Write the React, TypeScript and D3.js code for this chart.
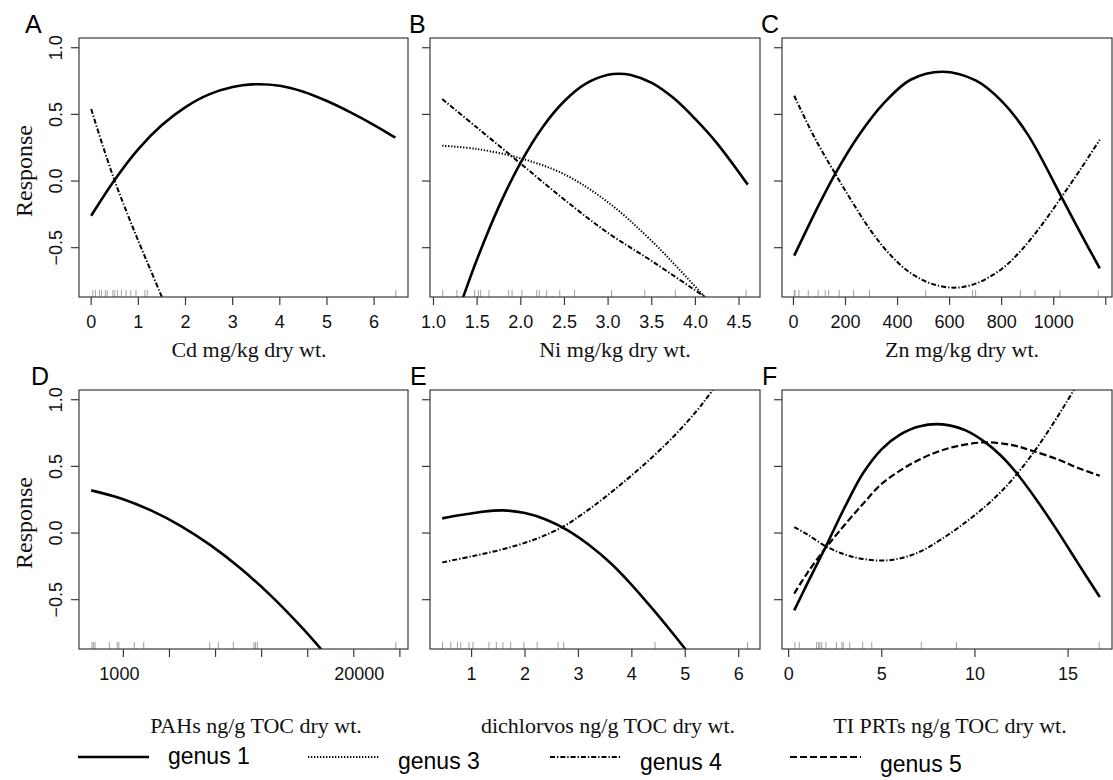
import React from "react";
import * as d3 from "d3";

// ---------------- data ----------------
const cdRug = [0.035, 0.09, 0.175, 0.22, 0.3, 0.34, 0.46, 0.5, 0.56, 0.64, 0.74, 0.84, 0.95, 1.14, 1.19, 6.46];
const niRug = [1.106, 1.268, 1.472, 1.514, 1.54, 1.635, 1.861, 1.9, 2.013, 2.183, 2.212, 2.296, 2.446, 2.616, 3.04, 3.42, 3.77, 4.58];
const znRug = [3, 6, 21, 57, 95, 122, 135, 176, 231, 292, 508, 688, 700, 872, 928, 1024, 1171];
const pahRug = [710, 723, 738, 883, 973, 993, 1205, 1355, 3090, 3444, 4150, 5370, 5470, 5600, 31600];
const dichRug = [0.455, 0.61, 0.735, 0.797, 0.952, 1.026, 1.325, 1.463, 1.586, 1.73, 1.978, 2.228, 2.62, 2.724, 4.435, 6.165];
const prtRug = [0.34, 0.57, 1.5, 1.61, 1.68, 1.78, 2.0, 2.57, 2.86, 2.93, 3.28, 3.97, 4.46, 7.12, 9.01, 16.67];

const cdTicks = [0, 1, 2, 3, 4, 5, 6];
const niTicks = [1.0, 1.5, 2.0, 2.5, 3.0, 3.5, 4.0, 4.5];
const znTicks = [0, 200, 400, 600, 800, 1000, 1200];
const znLabels = [0, 200, 400, 600, 800, 1000];
const pahTicks = [1051, 1869, 3324, 5911, 10512, 18693, 33242];
const pahLabels = [1000, 20000];
const dichTicks = [1, 2, 3, 4, 5, 6];
const prtTicks = [0, 5, 10, 15];
const responseTicks = [-0.5, 0, 0.5, 1.0];
const responseRange = [-0.87, 1.073];

type Pt = [number, number];
// Panel A (Cd)
const cdGenus1: Pt[] = [[0, -0.26], [0.5, 0.01], [1, 0.24], [1.5, 0.42], [2, 0.555], [2.5, 0.65], [3, 0.705], [3.4, 0.725], [4, 0.715], [4.5, 0.67], [5, 0.6], [5.5, 0.515], [6, 0.42], [6.45, 0.325]];
const cdGenus4: Pt[] = [[0, 0.54], [0.25, 0.26], [0.5, 0.0], [0.75, -0.23], [1.0, -0.45], [1.25, -0.66], [1.5, -0.87], [1.55, -0.91]];
// Panel B (Ni)
const niGenus1: Pt[] = [[1.2, -1.12], [1.34, -0.87], [1.5, -0.585], [1.75, -0.19], [2.0, 0.14], [2.25, 0.404], [2.5, 0.6], [2.75, 0.732], [3.0, 0.797], [3.12, 0.805], [3.25, 0.797], [3.5, 0.736], [3.75, 0.622], [4.0, 0.464], [4.25, 0.281], [4.6, -0.027]];
const niGenus3: Pt[] = [[1.1, 0.265], [1.5, 0.24], [2.0, 0.17], [2.5, 0.05], [3.0, -0.16], [3.5, -0.45], [4.11, -0.87], [4.2, -0.93]];
const niGenus4: Pt[] = [[1.1, 0.615], [1.5, 0.4], [2.0, 0.13], [2.5, -0.14], [3.0, -0.39], [3.5, -0.6], [4.11, -0.87], [4.2, -0.91]];
// Panel C (Zn)
const znGenus1: Pt[] = [[3, -0.56], [100, -0.17], [162, 0.06], [250, 0.34], [350, 0.59], [450, 0.76], [572, 0.82], [700, 0.755], [800, 0.6], [900, 0.35], [1030, -0.12], [1100, -0.38], [1177, -0.655]];
const znGenus4: Pt[] = [[3, 0.64], [80, 0.33], [162, 0.05], [230, -0.17], [300, -0.38], [375, -0.56], [450, -0.69], [530, -0.77], [617, -0.8], [700, -0.77], [800, -0.66], [875, -0.52], [950, -0.34], [1030, -0.12], [1100, 0.08], [1177, 0.31]];
// Panel D (PAHs)
const pahGenus1: Pt[] = [[703, 0.32], [1021, 0.259], [1483, 0.1695], [2158, 0.052], [3133, -0.093], [4550, -0.2665], [6607, -0.468], [9594, -0.697], [12417, -0.871], [14825, -0.999]];
// Panel E (dichlorvos)
const dichGenus1: Pt[] = [[0.45, 0.11], [0.8, 0.135], [1.2, 0.16], [1.6, 0.17], [2.0, 0.15], [2.4, 0.1], [2.8, 0.02], [3.2, -0.09], [3.6, -0.225], [4.0, -0.39], [4.4, -0.575], [4.7, -0.72], [5.0, -0.87], [5.2, -0.972]];
const dichGenus4: Pt[] = [[0.45, -0.22], [1.0, -0.175], [1.6, -0.12], [2.2, -0.045], [2.72, 0.05], [3.1, 0.15], [3.47, 0.26], [4.09, 0.465], [4.71, 0.695], [5.2, 0.91], [5.49, 1.06], [6.17, 1.45]];
// Panel F (TI PRTs)
const prtGenus1: Pt[] = [[0.3, -0.58], [1.0, -0.38], [2.0, -0.1], [3.0, 0.19], [4.0, 0.45], [5.0, 0.63], [6.0, 0.74], [7.0, 0.8], [8.25, 0.815], [9.5, 0.77], [10.56, 0.68], [11.4, 0.58], [12.18, 0.46], [13.3, 0.25], [14.41, 0.02], [15.5, -0.22], [16.7, -0.48]];
const prtGenus4: Pt[] = [[0.3, 0.045], [1.0, -0.01], [2.0, -0.1], [3.0, -0.16], [4.0, -0.195], [5.3, -0.205], [6.5, -0.17], [7.4, -0.115], [8.16, -0.05], [9.3, 0.06], [10.56, 0.2], [11.4, 0.31], [12.18, 0.43], [13.07, 0.59], [14.1, 0.8], [15.21, 1.05], [16.7, 1.4]];
const prtGenus5: Pt[] = [[0.3, -0.455], [1.0, -0.3], [2.0, -0.11], [3.0, 0.06], [4.0, 0.22], [5.0, 0.37], [6.0, 0.47], [7.0, 0.55], [8.0, 0.61], [9.0, 0.65], [10.5, 0.68], [12.0, 0.66], [13.0, 0.62], [14.5, 0.55], [15.5, 0.49], [16.7, 0.43]];

const legendNames = ["genus 1", "genus 3", "genus 4", "genus 5"];

// ---------------- layout / styles ----------------
const W = 1113, H = 780;
const COLS = [{ x0: 79, x1: 408 }, { x0: 430, x1: 760 }, { x0: 782, x1: 1112 }];
const ROWS = [{ y0: 38, y1: 297 }, { y0: 390, y1: 649 }];
const SERIF = "'Liberation Serif', 'Times New Roman', serif";
const SANS = "'Liberation Sans', Arial, Helvetica, sans-serif";
const AX = "#3a3a3a";

const STYLE: Record<string, { w: number; dash?: string }> = {
  "genus 1": { w: 2.6 },
  "genus 3": { w: 2, dash: "1.3 1.7" },
  "genus 4": { w: 2, dash: "5 2 1.3 2" },
  "genus 5": { w: 2.2, dash: "7 3" },
};

interface Panel {
  letter: string; title: string; col: number; row: number; log?: boolean;
  rug: number[]; ticks: number[]; labels: number[]; fmt: (v: number) => string;
  curves: { name: string; pts: Pt[] }[];
  letterX: number; titleX: number;
}

const f0 = (v: number) => String(v);
const f1 = (v: number) => v.toFixed(1);

const panels: Panel[] = [
  { letter: "A", title: "Cd mg/kg dry wt.", col: 0, row: 0, rug: cdRug, ticks: cdTicks, labels: cdTicks, fmt: f0,
    curves: [{ name: "genus 1", pts: cdGenus1 }, { name: "genus 4", pts: cdGenus4 }], letterX: 25, titleX: 249 },
  { letter: "B", title: "Ni mg/kg dry wt.", col: 1, row: 0, rug: niRug, ticks: niTicks, labels: niTicks, fmt: f1,
    curves: [{ name: "genus 1", pts: niGenus1 }, { name: "genus 3", pts: niGenus3 }, { name: "genus 4", pts: niGenus4 }], letterX: 409, titleX: 615 },
  { letter: "C", title: "Zn mg/kg dry wt.", col: 2, row: 0, rug: znRug, ticks: znTicks, labels: znLabels, fmt: f0,
    curves: [{ name: "genus 1", pts: znGenus1 }, { name: "genus 4", pts: znGenus4 }], letterX: 761, titleX: 962 },
  { letter: "D", title: "PAHs ng/g TOC dry wt.", col: 0, row: 1, log: true, rug: pahRug, ticks: pahTicks, labels: pahLabels, fmt: f0,
    curves: [{ name: "genus 1", pts: pahGenus1 }], letterX: 31, titleX: 256 },
  { letter: "E", title: "dichlorvos ng/g TOC dry wt.", col: 1, row: 1, rug: dichRug, ticks: dichTicks, labels: dichTicks, fmt: f0,
    curves: [{ name: "genus 1", pts: dichGenus1 }, { name: "genus 4", pts: dichGenus4 }], letterX: 410, titleX: 608 },
  { letter: "F", title: "TI PRTs ng/g TOC dry wt.", col: 2, row: 1, rug: prtRug, ticks: prtTicks, labels: prtTicks, fmt: f0,
    curves: [{ name: "genus 1", pts: prtGenus1 }, { name: "genus 5", pts: prtGenus5 }, { name: "genus 4", pts: prtGenus4 }], letterX: 762, titleX: 950 },
];

const fmtY = (v: number) => (v < 0 ? "\u2212" + Math.abs(v).toFixed(1) : v.toFixed(1));

function PanelView({ p, i }: { p: Panel; i: number }) {
  const { x0, x1 } = COLS[p.col];
  const { y0, y1 } = ROWS[p.row];
  const allX = [...p.rug, ...p.curves.flatMap((c) => c.pts.map((d) => d[0]))];
  const [mn, mx] = d3.extent(allX) as [number, number];
  let x: any;
  if (p.log) {
    const a = Math.log10(mn), b = Math.log10(mx), pad = (b - a) * 0.04;
    x = d3.scaleLog().domain([10 ** (a - pad), 10 ** (b + pad)]).range([x0, x1]);
  } else {
    const pad = (mx - mn) * 0.04;
    x = d3.scaleLinear().domain([mn - pad, mx + pad]).range([x0, x1]);
  }
  const y = d3.scaleLinear().domain(responseRange).range([y1, y0]);
  const line = d3.line<Pt>().x((d) => x(d[0])).y((d) => y(d[1])).curve(d3.curveCatmullRom.alpha(0.5));
  const clipId = `clip${i}`;
  const showY = p.col === 0;
  const respY = y0 + 133;
  return (
    <g>
      <defs>
        <clipPath id={clipId}><rect x={x0} y={y0} width={x1 - x0} height={y1 - y0} /></clipPath>
      </defs>
      {p.rug.map((v, k) => (
        <line key={"r" + k} x1={x(v)} x2={x(v)} y1={y1} y2={y1 - 7} stroke="#a0a0a0" strokeWidth={1} />
      ))}
      <g clipPath={`url(#${clipId})`}>
        {p.curves.map((c) => (
          <path key={c.name} d={line(c.pts) || ""} fill="none" stroke="#000" strokeWidth={STYLE[c.name].w}
            strokeDasharray={STYLE[c.name].dash} strokeLinecap="butt" />
        ))}
      </g>
      <rect x={x0} y={y0} width={x1 - x0} height={y1 - y0} fill="none" stroke={AX} strokeWidth={1.2} />
      {p.ticks.map((v, k) => (
        <line key={"xt" + k} x1={x(v)} x2={x(v)} y1={y1} y2={y1 + 8} stroke={AX} strokeWidth={1.2} />
      ))}
      {p.labels.map((v, k) => (
        <text key={"xl" + k} x={x(v)} y={y1 + 31} textAnchor="middle" fontFamily={SANS} fontSize={18} fill="#111">{p.fmt(v)}</text>
      ))}
      {responseTicks.map((v, k) => (
        <line key={"yt" + k} x1={x0 - 8} x2={x0} y1={y(v)} y2={y(v)} stroke={AX} strokeWidth={1.2} />
      ))}
      {showY && responseTicks.map((v, k) => (
        <text key={"yl" + k} x={x0 - 17} y={y(v)} textAnchor="middle" fontFamily={SANS} fontSize={18} fill="#111"
          transform={`rotate(-90 ${x0 - 17} ${y(v)})`}>{fmtY(v)}</text>
      ))}
      {showY && (
        <text x={32} y={respY} textAnchor="middle" fontFamily={SERIF} fontSize={24} fill="#111"
          transform={`rotate(-90 32 ${respY})`}>Response</text>
      )}
      <text x={p.letterX} y={y0 - 5} fontFamily={SANS} fontSize={25} fill="#000">{p.letter}</text>
      <text x={p.titleX} y={p.row === 0 ? 356.5 : 733} textAnchor="middle" fontFamily={SERIF} fontSize={22} fill="#111">{p.title}</text>
    </g>
  );
}

const legendLayout = [
  { x: 78, ty: 764 },
  { x: 308, ty: 769 },
  { x: 550, ty: 770 },
  { x: 790, ty: 772 },
];

export default function App() {
  return (
    <svg width={W} height={H} style={{ display: "block", position: "absolute", left: 0, top: 0, background: "#fff" }}>
      <rect x={0} y={0} width={W} height={H} fill="#fff" />
      {panels.map((p, i) => <PanelView key={p.letter} p={p} i={i} />)}
      {legendNames.map((n, k) => (
        <g key={n}>
          <line x1={legendLayout[k].x} x2={legendLayout[k].x + 71} y1={757} y2={757} stroke="#000"
            strokeWidth={STYLE[n].w} strokeDasharray={STYLE[n].dash} />
          <text x={legendLayout[k].x + 90} y={legendLayout[k].ty} fontFamily={SANS} fontSize={23} fill="#000">{n}</text>
        </g>
      ))}
    </svg>
  );
}
